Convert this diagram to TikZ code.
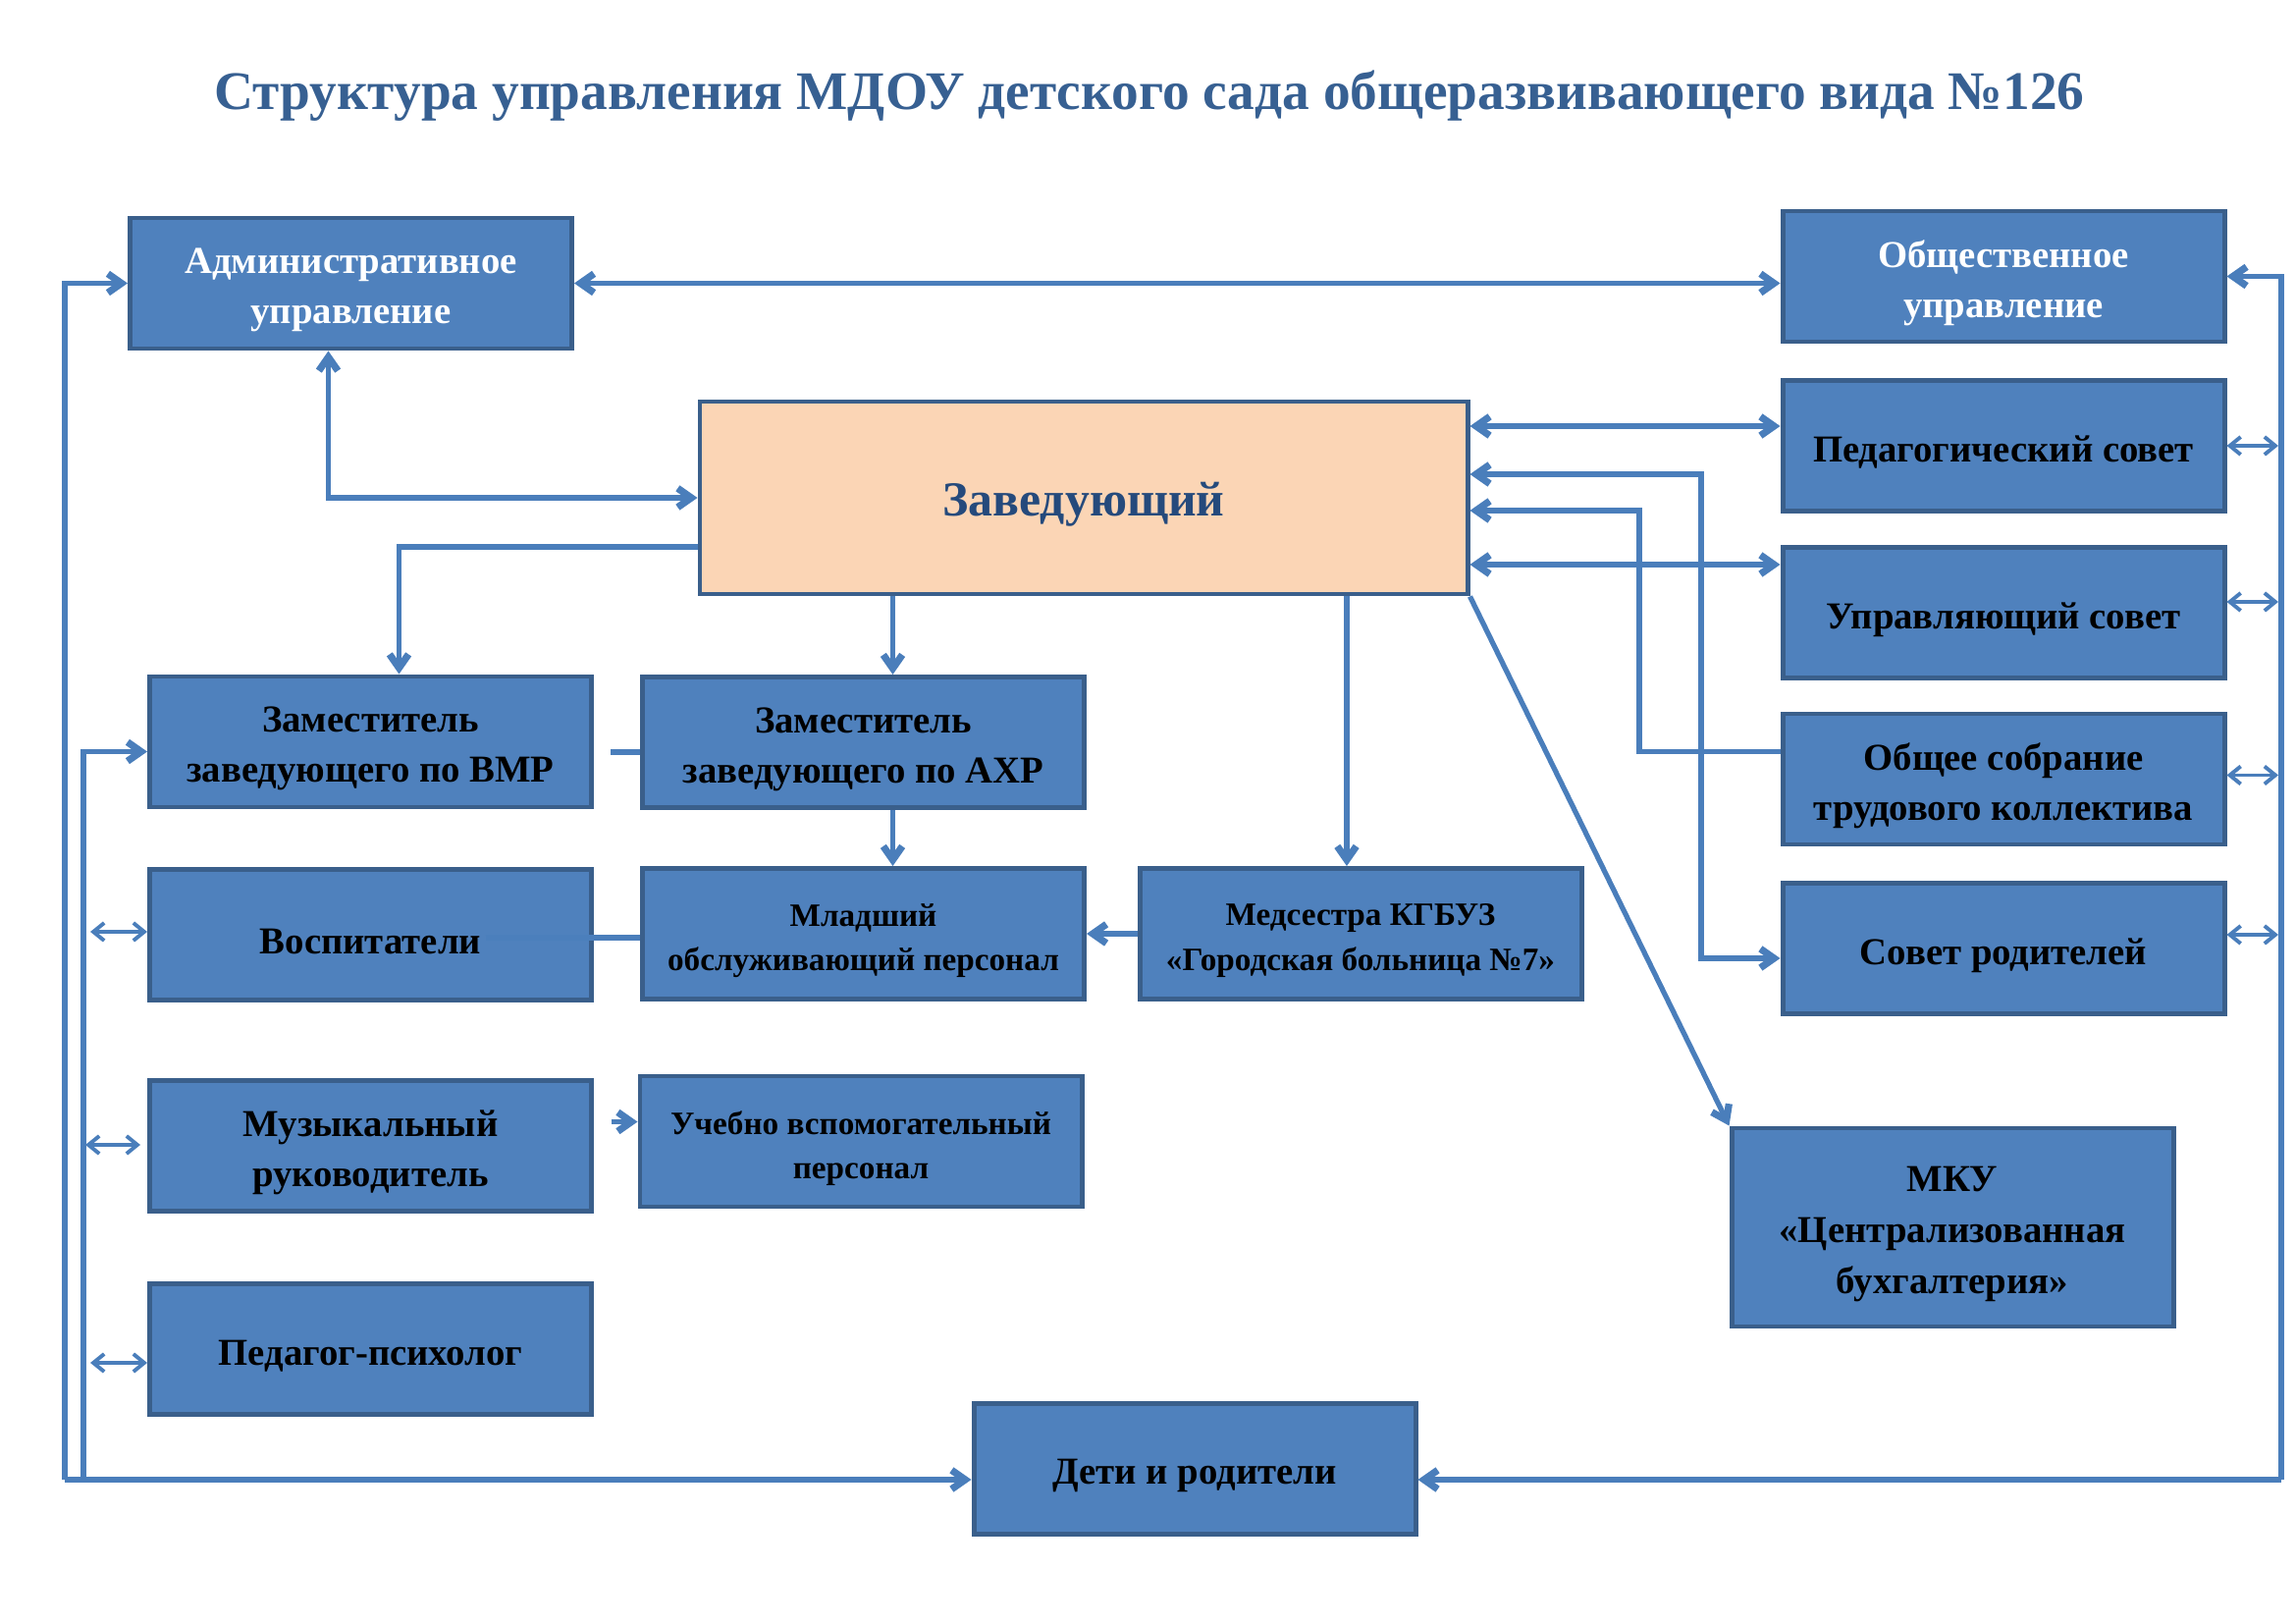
\documentclass[tikz,border=0pt]{standalone}
\usepackage{fontspec}
\setmainfont{Liberation Serif}
\usetikzlibrary{arrows.meta,calc}
\definecolor{boxfill}{HTML}{4F81BD}
\definecolor{boxline}{HTML}{3A5F8B}
\definecolor{connc}{HTML}{4A7EBB}
\definecolor{peach}{HTML}{FBD5B5}
\definecolor{titlec}{HTML}{376092}
\definecolor{zavtext}{HTML}{254A7C}
\newcommand\pxu{0.12698mm}
\newcommand\boxnode[4][]{%
  \node[box] (#2) at (#3) {};
  \node[boxtext,#1] (#2-t) at ($(#2.center)+(0,7)$) {#4};}
\begin{document}
\begin{tikzpicture}[x=0.12698mm, y=-0.12698mm,
  box/.style={draw=boxline, fill=boxfill, line width=1.8pt, inner sep=0pt,
    minimum width=450*\pxu, minimum height=133*\pxu},
  boxtext/.style={align=center, inner sep=0pt, text=black,
    font=\bfseries\fontsize{14}{18.5}\selectfont},
  smalltext/.style={font=\bfseries\fontsize{12}{16.5}\selectfont},
  zavbox/.style={draw=boxline, fill=peach, line width=1.8pt,
    minimum width=782*\pxu, minimum height=196*\pxu},
  conn/.style={draw=connc, line width=1.9pt},
  tip/.tip={Straight Barb[length=5pt,width=7pt,line width=2.6pt]},
  stip/.tip={Straight Barb[length=4pt,width=6.5pt,line width=1.4pt]},
  arr/.style={conn, -tip},
  arrboth/.style={conn, tip-tip},
  arrback/.style={conn, tip-},
  sarr/.style={draw=connc, line width=1.1pt, stip-stip}
]
\useasboundingbox[fill=white] (0,0) rectangle (2339,1654);

\node[font=\bfseries\fontsize{20}{24}\selectfont, text=titlec] (title) at (1171,98)
  {Структура управления МДОУ детского сада общеразвивающего вида №126};

% boxes
\boxnode[text=white]{adm}{357.5,288.5}{Административное\\управление}
\boxnode[text=white]{obsh}{2041,281.5}{Общественное\\управление}
\node[zavbox] (zav) at (1104,507) {};
\node[boxtext, text=zavtext, font=\bfseries\fontsize{18}{22}\selectfont] (zav-t)
  at ($(zav.center)+(0,7)$) {Заведующий};
\boxnode{ped}{2041,454}{Педагогический совет}
\boxnode{upr}{2041,624}{Управляющий совет}
\boxnode{gs}{2041,793.5}{Общее собрание\\трудового коллектива}
\boxnode{sr}{2041,966}{Совет родителей}
\boxnode{vmr}{377.5,755.5}{Заместитель\\заведующего по ВМР}
\boxnode{axr}{879.5,756}{Заместитель\\заведующего по АХР}
\boxnode{vos}{377.5,952}{Воспитатели}
\boxnode[smalltext]{mlad}{879.5,951}{Младший\\обслуживающий персонал}
\boxnode[smalltext]{med}{1386,951}{Медсестра КГБУЗ\\«Городская больница №7»}
\boxnode{muz}{377.5,1167}{Музыкальный\\руководитель}
\boxnode[smalltext]{ucheb}{877,1162.5}{Учебно вспомогательный\\персонал}
\boxnode{psy}{377.5,1374}{Педагог-психолог}
\node[box, minimum height=202*\pxu] (mku) at (1989,1250) {};
\node[boxtext, font=\bfseries\fontsize{14}{18.8}\selectfont] (mku-t)
  at ($(mku.center)+(0,7)$) {МКУ\\«Централизованная\\бухгалтерия»};
\boxnode{dr}{1217,1496}{Дети и родители}

% helper coordinates
\coordinate (L1) at (66,1507);
\coordinate (L2) at (85,1507);
\coordinate (R) at (2324,1507);
\coordinate (a1) at ($(axr.north)+(30,0)$);
\coordinate (m1) at ($(med.north)+(-14,0)$);
\coordinate (v1) at ($(vmr.north)+(29,0)$);
\coordinate (z1) at ($(zav.west)+(0,50)$);
\coordinate (ad1) at ($(adm.south)+(-23,0)$);
\coordinate (p1) at ($(ped.west)+(0,-20)$);
\coordinate (u1) at ($(upr.west)+(0,-49)$);
\coordinate (s1) at ($(sr.west)+(0,10)$);
\coordinate (g1) at ($(gs.west)+(0,-28)$);
\coordinate (t1) at (1733,483);
\coordinate (t2) at (1670,520);
\coordinate (stub) at ($(axr.west)+(-30,10)$);
\coordinate (mz) at ($(ucheb.west)+(-27,-20)$);
\coordinate (vin) at ($(vos.east)+(-110,3)$);

% outer loops
\draw[arr] (L1) |- (adm.west);
\draw[arr] (L1) -- (L1 -| dr.west);
\draw[arr] (L2) |- ($(vmr.west)+(0,10)$);
\draw[arr] (R) |- (obsh.east);
\draw[arr] (R) -- (R -| dr.east);

% left small double arrows
\draw[sarr] ($(vos.west)+(-58,-3)$) -- ($(vos.west)+(0,-3)$);
\draw[sarr] ($(muz.west)+(-63,-1)$) -- ($(muz.west)+(-7,-1)$);
\draw[sarr] ($(psy.west)+(-58,14)$) -- ($(psy.west)+(0,14)$);

% right small double arrows
\draw[sarr] (ped.east) -- ($(ped.east -| R)+(-3,0)$);
\draw[sarr] ($(upr.east)+(0,-11)$) -- ($(upr.east -| R)+(-3,-11)$);
\draw[sarr] ($(gs.east)+(0,-4)$) -- ($(gs.east -| R)+(-3,-4)$);
\draw[sarr] ($(sr.east)+(0,-14)$) -- ($(sr.east -| R)+(-3,-14)$);

% top
\draw[arrboth] (adm.east) -- (adm.east -| obsh.west);
\draw[arrboth] (ad1) |- (zav.west);
\draw[arr] (z1) -| (v1);
\draw[arr] (a1 |- zav.south) -- (a1);
\draw[arr] (m1 |- zav.south) -- (m1);
\draw[arr] (zav.south east) -- (mku.north west);

% right side connectors
\draw[arrboth] (p1 -| zav.east) -- (p1);
\draw[arrboth] (u1 -| zav.east) -- (u1);
\draw[arrboth] (t1 -| zav.east) -- (t1) |- (s1);
\draw[arrback] (t2 -| zav.east) -- (t2) |- (g1);

% lower middle
\draw[arr] (a1 |- axr.south) -- (a1 |- mlad.north);
\draw[arr] (med.west) -- (med.west -| mlad.east);
\draw[conn] (stub) -- ($(axr.west)+(0,10)$);
\draw[conn] (vos.east |- vin) -- (vin -| mlad.west);
\draw[draw=connc!70!boxfill, line width=1.9pt] (vin) -- (vos.east |- vin);
\draw[arr] (mz) -- ($(ucheb.west)+(0,-20)$);
\end{tikzpicture}
\end{document}
